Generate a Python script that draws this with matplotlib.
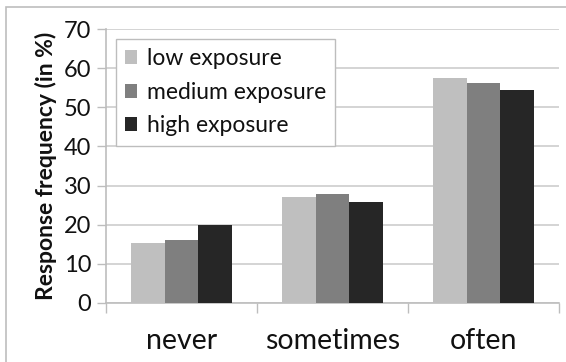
import matplotlib
matplotlib.use("Agg")
import matplotlib.pyplot as plt
from matplotlib.patches import Rectangle
import numpy as np

categories = ["never", "sometimes", "often"]
series_names = ["low exposure", "medium exposure", "high exposure"]
low_exposure = [15.4, 27.0, 57.5]
medium_exposure = [16.0, 27.8, 56.2]
high_exposure = [19.9, 25.7, 54.4]
y_ticks = [0, 10, 20, 30, 40, 50, 60, 70]

series = [low_exposure, medium_exposure, high_exposure]
colors = ["#bfbfbf", "#7f7f7f", "#262626"]
grid_color = "#d4d4d4"
axis_color = "#bdbdbd"
font = ["Lato", "DejaVu Sans"]
plt.rcParams["font.family"] = font

W, H = 566, 362
fig = plt.figure(figsize=(W / 100, H / 100), dpi=100)
ax = fig.add_axes([106 / W, (H - 302.7) / H, (559 - 106) / W, (302.7 - 29.3) / H])

x = np.arange(len(categories))
bw = 0.222
for i, (vals, c, name) in enumerate(zip(series, colors, series_names)):
    ax.bar(x + (i - 1) * bw, vals, width=bw, color=c, label=name,
           edgecolor="none", zorder=3)

ax.set_xlim(-0.5, len(categories) - 0.5)
ax.set_ylim(0, 70)
ax.set_yticks(y_ticks)
ax.yaxis.grid(True, color=grid_color, linewidth=1.4, zorder=0)
ax.set_axisbelow(True)

for s in ["top", "right"]:
    ax.spines[s].set_visible(False)
for s in ["left", "bottom"]:
    ax.spines[s].set_color(axis_color)
    ax.spines[s].set_linewidth(1.2)

ax.tick_params(axis="y", direction="out", length=6.5, width=1.0,
               color=axis_color, labelsize=17, pad=4, labelcolor="#111111")
ax.set_xticks(x)
ax.set_xticklabels(categories)
ax.tick_params(axis="x", which="major", length=0, labelsize=20.5, pad=18,
               labelcolor="#111111")
ax.set_xticks(np.arange(len(categories) + 1) - 0.5, minor=True)
ax.tick_params(axis="x", which="minor", direction="out", length=7.5,
               width=1.0, color=axis_color)

ax.set_ylabel("Response frequency (in %)", fontsize=16.5, fontweight="bold",
              color="#111111", labelpad=5)

leg = ax.legend(loc="upper left", bbox_to_anchor=(9.7 / 453, 1 - 9.7 / 273.4),
                fontsize=16.5, frameon=True, fancybox=False, framealpha=1,
                edgecolor=axis_color, handlelength=0.55, handleheight=0.55,
                handletextpad=0.4, labelspacing=0.55, borderpad=0.4,
                borderaxespad=0)
leg.get_frame().set_linewidth(1.0)
for t in leg.get_texts():
    t.set_color("#111111")

fig.patches.append(Rectangle((6 / W, -0.1), 1.2, (H - 7) / H + 0.1,
                             transform=fig.transFigure, fill=False,
                             edgecolor=axis_color, linewidth=1.2))

fig.savefig("out.png", dpi=100)
